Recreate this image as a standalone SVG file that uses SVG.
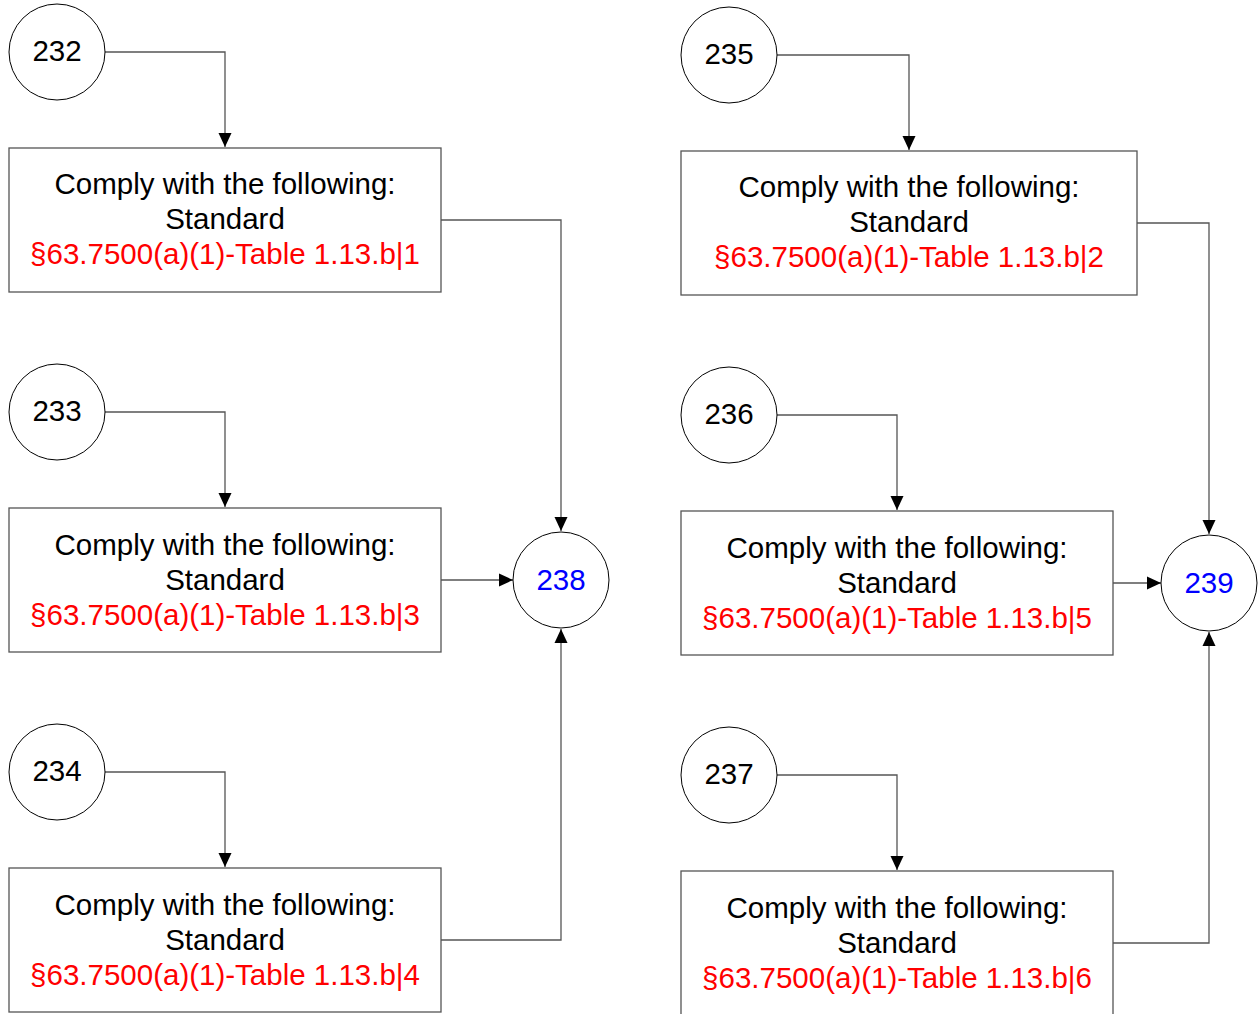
<svg xmlns="http://www.w3.org/2000/svg" width="1258" height="1014" viewBox="0 0 1258 1014">
<style>
.box{fill:#fff;stroke:#555;stroke-width:1.3}
.circ{fill:#fff;stroke:#000;stroke-width:1}
.t{font-family:"Liberation Sans",Arial,sans-serif;font-size:29.5px;text-anchor:middle;fill:#000}
.r{fill:#f00}
.b{fill:#00f}
.con{fill:none;stroke:#555;stroke-width:1.3}
</style>
<defs>
<marker id="arr" markerWidth="14" markerHeight="14" refX="14" refY="7" orient="auto" markerUnits="userSpaceOnUse">
<path d="M0,0.5 L14,7 L0,13.5 Z" fill="#000"/>
</marker>
</defs>
<g id="connectors">
<path class="con" d="M105,52 H225 V147" marker-end="url(#arr)"/>
<path class="con" d="M105,412 H225 V507" marker-end="url(#arr)"/>
<path class="con" d="M105,772 H225 V867" marker-end="url(#arr)"/>
<path class="con" d="M441,220 H561 V531" marker-end="url(#arr)"/>
<path class="con" d="M441,580 H513" marker-end="url(#arr)"/>
<path class="con" d="M441,940 H561 V629" marker-end="url(#arr)"/>
<path class="con" d="M777,55 H909 V150" marker-end="url(#arr)"/>
<path class="con" d="M777,415 H897 V510" marker-end="url(#arr)"/>
<path class="con" d="M777,775 H897 V870" marker-end="url(#arr)"/>
<path class="con" d="M1137,223 H1209 V534" marker-end="url(#arr)"/>
<path class="con" d="M1113,583 H1161" marker-end="url(#arr)"/>
<path class="con" d="M1113,943 H1209 V632" marker-end="url(#arr)"/>
</g>
<g id="n232"><circle class="circ" cx="57" cy="52" r="48"/><text class="t" x="57" y="61">232</text></g>
<g id="n233"><circle class="circ" cx="57" cy="412" r="48"/><text class="t" x="57" y="421">233</text></g>
<g id="n234"><circle class="circ" cx="57" cy="772" r="48"/><text class="t" x="57" y="781">234</text></g>
<g id="n235"><circle class="circ" cx="729" cy="55" r="48"/><text class="t" x="729" y="64">235</text></g>
<g id="n236"><circle class="circ" cx="729" cy="415" r="48"/><text class="t" x="729" y="424">236</text></g>
<g id="n237"><circle class="circ" cx="729" cy="775" r="48"/><text class="t" x="729" y="784">237</text></g>
<g id="n238"><circle class="circ" cx="561" cy="580" r="48"/><text class="t b" x="561" y="590">238</text></g>
<g id="n239"><circle class="circ" cx="1209" cy="583" r="48"/><text class="t b" x="1209" y="593">239</text></g>
<g id="box1"><rect class="box" x="9" y="148" width="432" height="144"/>
<text class="t" x="225" y="194">Comply with the following:</text>
<text class="t" x="225" y="229">Standard</text>
<text class="t r" x="225" y="264">§63.7500(a)(1)-Table 1.13.b|1</text></g>
<g id="box3"><rect class="box" x="9" y="508" width="432" height="144"/>
<text class="t" x="225" y="555">Comply with the following:</text>
<text class="t" x="225" y="590">Standard</text>
<text class="t r" x="225" y="625">§63.7500(a)(1)-Table 1.13.b|3</text></g>
<g id="box4"><rect class="box" x="9" y="868" width="432" height="144"/>
<text class="t" x="225" y="915">Comply with the following:</text>
<text class="t" x="225" y="950">Standard</text>
<text class="t r" x="225" y="985">§63.7500(a)(1)-Table 1.13.b|4</text></g>
<g id="box2"><rect class="box" x="681" y="151" width="456" height="144"/>
<text class="t" x="909" y="197">Comply with the following:</text>
<text class="t" x="909" y="232">Standard</text>
<text class="t r" x="909" y="267">§63.7500(a)(1)-Table 1.13.b|2</text></g>
<g id="box5"><rect class="box" x="681" y="511" width="432" height="144"/>
<text class="t" x="897" y="558">Comply with the following:</text>
<text class="t" x="897" y="593">Standard</text>
<text class="t r" x="897" y="628">§63.7500(a)(1)-Table 1.13.b|5</text></g>
<g id="box6"><rect class="box" x="681" y="871" width="432" height="144"/>
<text class="t" x="897" y="918">Comply with the following:</text>
<text class="t" x="897" y="953">Standard</text>
<text class="t r" x="897" y="988">§63.7500(a)(1)-Table 1.13.b|6</text></g>
</svg>
